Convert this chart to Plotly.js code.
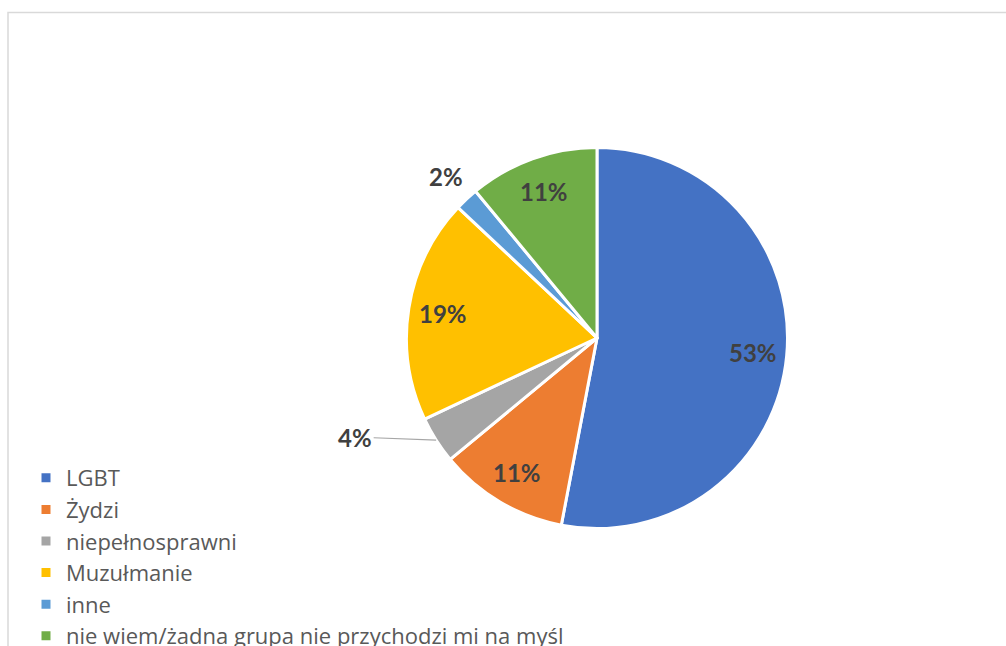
<!DOCTYPE html>
<html>
<head>
<meta charset="utf-8">
<script src="https://cdn.plot.ly/plotly-3.0.1.min.js"></script>
<style>html,body{margin:0;padding:0;background:#fff;}#chart{width:1006px;height:646px;}</style>
</head>
<body>
<div id="chart"></div>
<script>
const categories = ["LGBT", "Żydzi", "niepełnosprawni", "Muzułmanie", "inne", "nie wiem/żadna grupa nie przychodzi mi na myśl"];
const shares = [53, 11, 4, 19, 2, 11];
const colors = ["#4472C4", "#ED7D31", "#A5A5A5", "#FFC000", "#5B9BD5", "#70AD47"];
// label placement: "in" = inside slice, "out" = outside plain, "lead" = outside with leader line
const labelModes = ["in", "in", "lead", "in", "out", "in"];

const W = 1006, H = 646;
const cx = 597, cy = 338, r = 190.5;
const FONT = "Lato, 'Open Sans', sans-serif";

const trace = {
  type: "pie",
  labels: categories,
  values: shares,
  sort: false,
  direction: "clockwise",
  rotation: 0,
  marker: {colors: colors, line: {color: "#FFFFFF", width: 3}},
  textinfo: "none",
  hoverinfo: "label+percent",
  domain: {x: [(cx - r) / W, (cx + r) / W], y: [(H - cy - r) / H, (H - cy + r) / H]}
};

// data labels placed at each slice's mid-angle
const total = shares.reduce((a, b) => a + b, 0);
const annotations = [];
let cum = 0;
shares.forEach((v, i) => {
  const mid = (cum + v / 2) / total * 2 * Math.PI;
  cum += v;
  const sx = Math.sin(mid), sy = -Math.cos(mid);
  const base = {text: v + "%", font: {family: FONT, size: 24, color: "#404040", weight: "bold"},
    xref: "paper", yref: "paper", xanchor: "center", yanchor: "middle"};
  if (labelModes[i] === "in") {
    const rr = 0.82 * r;
    annotations.push(Object.assign(base, {x: (cx + sx * rr) / W, y: 1 - (cy + sy * rr) / H, showarrow: false}));
  } else if (labelModes[i] === "out") {
    const rr = 1.16 * r;
    annotations.push(Object.assign(base, {x: (cx + sx * rr) / W, y: 1 - (cy + sy * rr) / H, showarrow: false}));
  } else {
    annotations.push(Object.assign(base, {
      x: (cx + sx * r) / W, y: 1 - (cy + sy * r) / H,
      showarrow: true, arrowhead: 0, arrowwidth: 1.2, arrowcolor: "#A6A6A6",
      ax: -81, ay: -3, standoff: 0
    }));
  }
});

const layout = {
  width: W, height: H,
  margin: {l: 0, r: 0, t: 0, b: 0, autoexpand: false},
  paper_bgcolor: "#FFFFFF",
  showlegend: true,
  legend: {
    x: 26 / W, xanchor: "left",
    y: (H - 457) / H, yanchor: "top",
    font: {family: "'Open Sans', Lato, sans-serif", size: 22, color: "#595959"},
    itemwidth: 30,
    traceorder: "normal",
    bgcolor: "rgba(0,0,0,0)"
  },
  annotations: annotations,
  shapes: [{
    type: "rect", xref: "paper", yref: "paper",
    x0: 8 / W, x1: 1.05, y0: -0.05, y1: (H - 12.5) / H,
    line: {color: "#D9D9D9", width: 1.5}, fillcolor: "rgba(0,0,0,0)", layer: "below"
  }]
};

Plotly.newPlot("chart", [trace], layout, {displayModeBar: false, staticPlot: true});
</script>
</body>
</html>
